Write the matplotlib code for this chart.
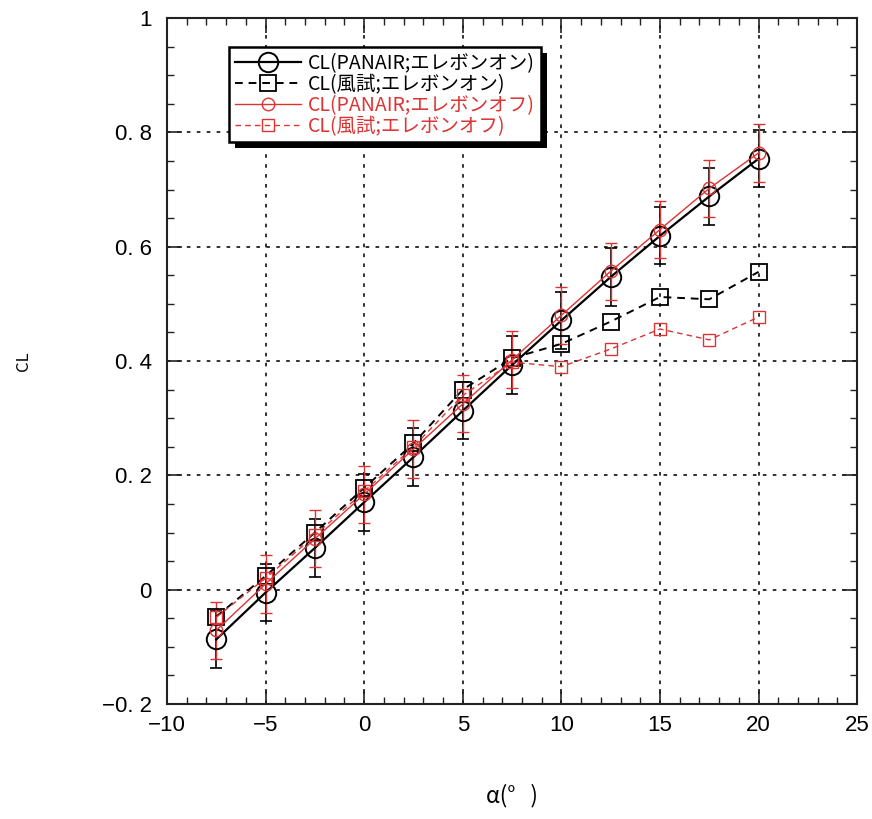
import matplotlib
matplotlib.use("Agg")
import matplotlib.pyplot as plt
from matplotlib.ticker import MultipleLocator, FuncFormatter
from matplotlib.patches import Rectangle

# フォント設定
plt.rcParams['font.family'] = ['Noto Sans CJK JP', 'DejaVu Sans']

# ===== データ =====
alpha = [-7.5, -5, -2.5, 0, 2.5, 5, 7.5, 10, 12.5, 15, 17.5, 20]
cl_panair_on = [-0.087, -0.005, 0.073, 0.153, 0.232, 0.313, 0.393, 0.471, 0.547, 0.619, 0.688, 0.754]
cl_wt_on = [-0.047, 0.024, 0.100, 0.178, 0.256, 0.350, 0.405, 0.430, 0.469, 0.512, 0.508, 0.556]
cl_panair_off = [-0.071, 0.010, 0.089, 0.167, 0.246, 0.325, 0.402, 0.480, 0.557, 0.630, 0.702, 0.764]
cl_wt_off = [-0.048, 0.020, 0.095, 0.172, 0.250, 0.340, 0.398, 0.390, 0.421, 0.456, 0.437, 0.477]
cl_err = 0.05

labels = ["CL(PANAIR;エレボンオン)", "CL(風試;エレボンオン)",
          "CL(PANAIR;エレボンオフ)", "CL(風試;エレボンオフ)"]

RED = '#dd3333'

fig = plt.figure(figsize=(8.72, 8.19), dpi=100)
ax = fig.add_axes([0.1915, 0.1404, 0.7915, 0.8376])

# 誤差棒
ax.errorbar(alpha, cl_panair_on, yerr=cl_err, fmt='none', ecolor='black',
            elinewidth=1.2, capsize=4, capthick=1.2, zorder=3)
ax.errorbar(alpha, cl_panair_off, yerr=cl_err, fmt='none', ecolor=RED,
            elinewidth=1.0, capsize=4, capthick=1.0, zorder=3)

# 線
ax.plot(alpha, cl_panair_on, '-o', color='black', mfc='none', mec='black',
        ms=14, mew=1.4, lw=1.6, label=labels[0], zorder=4)
ax.plot(alpha, cl_wt_on, '--s', color='black', mfc='none', mec='black',
        ms=12, mew=1.3, lw=1.4, dashes=(4, 3), label=labels[1], zorder=4)
ax.plot(alpha, cl_panair_off, '-o', color=RED, mfc='none', mec=RED,
        ms=9, mew=1.0, lw=1.0, label=labels[2], zorder=4)
ax.plot(alpha, cl_wt_off, '--s', color=RED, mfc='none', mec=RED,
        ms=8, mew=1.0, lw=1.0, dashes=(4, 3), label=labels[3], zorder=4)

# 軸
ax.set_xlim(-10, 25)
ax.set_ylim(-0.2, 1.0)
ax.xaxis.set_major_locator(MultipleLocator(5))
ax.xaxis.set_minor_locator(MultipleLocator(1))
ax.yaxis.set_major_locator(MultipleLocator(0.2))
ax.yaxis.set_minor_locator(MultipleLocator(0.05))

def fmt(v, pos):
    s = f'{v:.1f}'.rstrip('0').rstrip('.') if abs(v) > 1e-9 else '0'
    return s.replace('-', '\u2212').replace('.', '. ')

ax.xaxis.set_major_formatter(FuncFormatter(fmt))
ax.yaxis.set_major_formatter(FuncFormatter(fmt))

ax.tick_params(which='both', direction='in', top=True, right=True, color='#222222')
ax.tick_params(which='major', length=11, width=1.2)
ax.tick_params(which='minor', length=5, width=1.0)
ax.tick_params(axis='y', pad=11)
ax.tick_params(axis='x', pad=8)
for lab in ax.get_xticklabels() + ax.get_yticklabels():
    lab.set_family('Liberation Sans')
    lab.set_fontsize(16)
for s in ax.spines.values():
    s.set_linewidth(1.5)
    s.set_color('#222222')

ax.grid(True, which='major', color='#222222', linestyle=(0, (2, 3.5)), linewidth=1.3)
ax.set_axisbelow(True)

ax.set_xlabel('α(°   )', fontsize=16, labelpad=34)
ax.set_ylabel('CL', fontsize=12, labelpad=50)

# 凡例
leg = ax.legend(loc='upper left', bbox_to_anchor=(0.09, 0.958), borderaxespad=0,
                fontsize=14, handlelength=3.4, handletextpad=0.35,
                labelspacing=0.0, borderpad=0.3, fancybox=False,
                framealpha=1, edgecolor='black')
leg.get_frame().set_linewidth(1.8)
for t, c in zip(leg.get_texts(), ['black', 'black', RED, RED]):
    t.set_color(c)
leg.set_zorder(10)

# 凡例の影（黒）
fig.canvas.draw()
bb = leg.get_window_extent().transformed(fig.transFigure.inverted())
off_x, off_y = 6 / fig.bbox.width, 6 / fig.bbox.height
shadow = Rectangle((bb.x0 + off_x, bb.y0 - off_y), bb.width, bb.height,
                   transform=fig.transFigure, facecolor='black', edgecolor='none',
                   zorder=9)
ax.add_artist(shadow)
shadow.set_clip_on(False)

fig.savefig('out.png', dpi=100)
